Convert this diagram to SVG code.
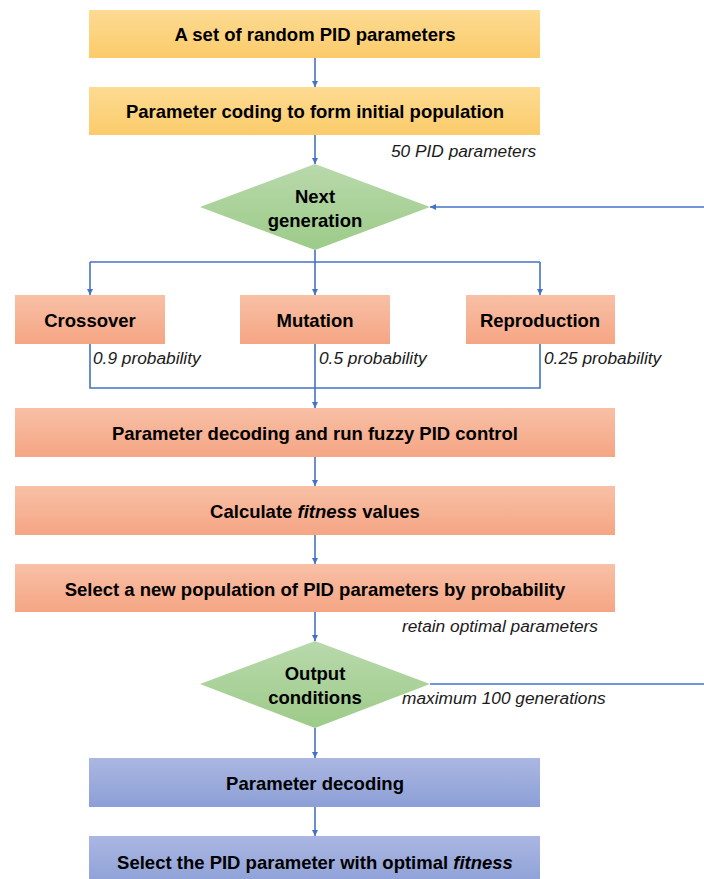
<svg xmlns="http://www.w3.org/2000/svg" width="704" height="879" viewBox="0 0 704 879">
<defs>
<linearGradient id="gy" x1="0" y1="0" x2="0" y2="1"><stop offset="0" stop-color="#FDDB93"/><stop offset="1" stop-color="#FBCB6A"/></linearGradient>
<linearGradient id="go" x1="0" y1="0" x2="0" y2="1"><stop offset="0" stop-color="#F8C0A6"/><stop offset="1" stop-color="#F5A584"/></linearGradient>
<linearGradient id="gg" x1="0" y1="0" x2="0" y2="1"><stop offset="0" stop-color="#B9D9AC"/><stop offset="1" stop-color="#9CCB88"/></linearGradient>
<linearGradient id="gb" x1="0" y1="0" x2="0" y2="1"><stop offset="0" stop-color="#ABB7E2"/><stop offset="1" stop-color="#8C9FD6"/></linearGradient>
<marker id="ah" viewBox="0 0 10 10" refX="10" refY="5" markerWidth="4" markerHeight="4" orient="auto"><path d="M0,0 L10,5 L0,10 z" fill="#4472C4"/></marker>
<style>
.t{font-family:"Liberation Sans",Arial,sans-serif;font-weight:bold;font-size:18.5px;fill:#000;text-anchor:middle;dominant-baseline:central}
.i{font-family:"Liberation Sans",Arial,sans-serif;font-style:italic;font-size:17.3px;fill:#1a1a1a}
.c{fill:none;stroke:#4472C4;stroke-width:1.6}
</style>
</defs>
<g id="connectors">
<path class="c" d="M315,58 V87" marker-end="url(#ah)"/>
<path class="c" d="M315,135 V164" marker-end="url(#ah)"/>
<path class="c" d="M315,250 V295" marker-end="url(#ah)"/>
<path class="c" d="M90,262 H540"/>
<path class="c" d="M90,262 V295" marker-end="url(#ah)"/>
<path class="c" d="M540,262 V295" marker-end="url(#ah)"/>
<path class="c" d="M90,344 V388 H540 V344"/>
<path class="c" d="M315,344 V408" marker-end="url(#ah)"/>
<path class="c" d="M315,457 V486" marker-end="url(#ah)"/>
<path class="c" d="M315,535 V564" marker-end="url(#ah)"/>
<path class="c" d="M315,612 V641" marker-end="url(#ah)"/>
<path class="c" d="M315,728 V758" marker-end="url(#ah)"/>
<path class="c" d="M315,807 V836" marker-end="url(#ah)"/>
<path class="c" d="M430,684 H710"/>
<path class="c" d="M710,207 H430" marker-end="url(#ah)"/>
</g>
<g id="n1"><rect x="89" y="10" width="451" height="48" fill="url(#gy)"/><text class="t" x="315" y="34">A set of random PID parameters</text></g>
<g id="n2"><rect x="89" y="87" width="451" height="48" fill="url(#gy)"/><text class="t" x="315" y="111">Parameter coding to form initial population</text></g>
<text class="i" x="391" y="157">50 PID parameters</text>
<g id="d1"><polygon points="315,164 430,207 315,250 200,207" fill="url(#gg)"/><text class="t" x="315" y="196">Next</text><text class="t" x="315" y="220">generation</text></g>
<g id="n3"><rect x="15" y="295" width="150" height="49" fill="url(#go)"/><text class="t" x="90" y="320">Crossover</text></g>
<g id="n4"><rect x="240" y="295" width="150" height="49" fill="url(#go)"/><text class="t" x="315" y="320">Mutation</text></g>
<g id="n5"><rect x="466" y="295" width="149" height="49" fill="url(#go)"/><text class="t" x="540" y="320">Reproduction</text></g>
<text class="i" x="93" y="364">0.9 probability</text>
<text class="i" x="319" y="364">0.5 probability</text>
<text class="i" x="544" y="364">0.25 probability</text>
<g id="n6"><rect x="15" y="408" width="600" height="49" fill="url(#go)"/><text class="t" x="315" y="433">Parameter decoding and run fuzzy PID control</text></g>
<g id="n7"><rect x="15" y="486" width="600" height="49" fill="url(#go)"/><text class="t" x="315" y="511">Calculate <tspan font-style="italic">fitness</tspan> values</text></g>
<g id="n8"><rect x="15" y="564" width="600" height="48" fill="url(#go)"/><text class="t" x="315" y="589">Select a new population of PID parameters by probability</text></g>
<text class="i" x="402" y="632">retain optimal parameters</text>
<g id="d2"><polygon points="315,641 430,684 315,728 200,684" fill="url(#gg)"/><text class="t" x="315" y="673">Output</text><text class="t" x="315" y="697">conditions</text></g>
<text class="i" x="402" y="704">maximum 100 generations</text>
<g id="n9"><rect x="89" y="758" width="451" height="49" fill="url(#gb)"/><text class="t" x="315" y="783">Parameter decoding</text></g>
<g id="n10"><rect x="89" y="836" width="451" height="50" fill="url(#gb)"/><text class="t" x="315" y="862">Select the PID parameter with optimal <tspan font-style="italic">fitness</tspan></text></g>
</svg>
